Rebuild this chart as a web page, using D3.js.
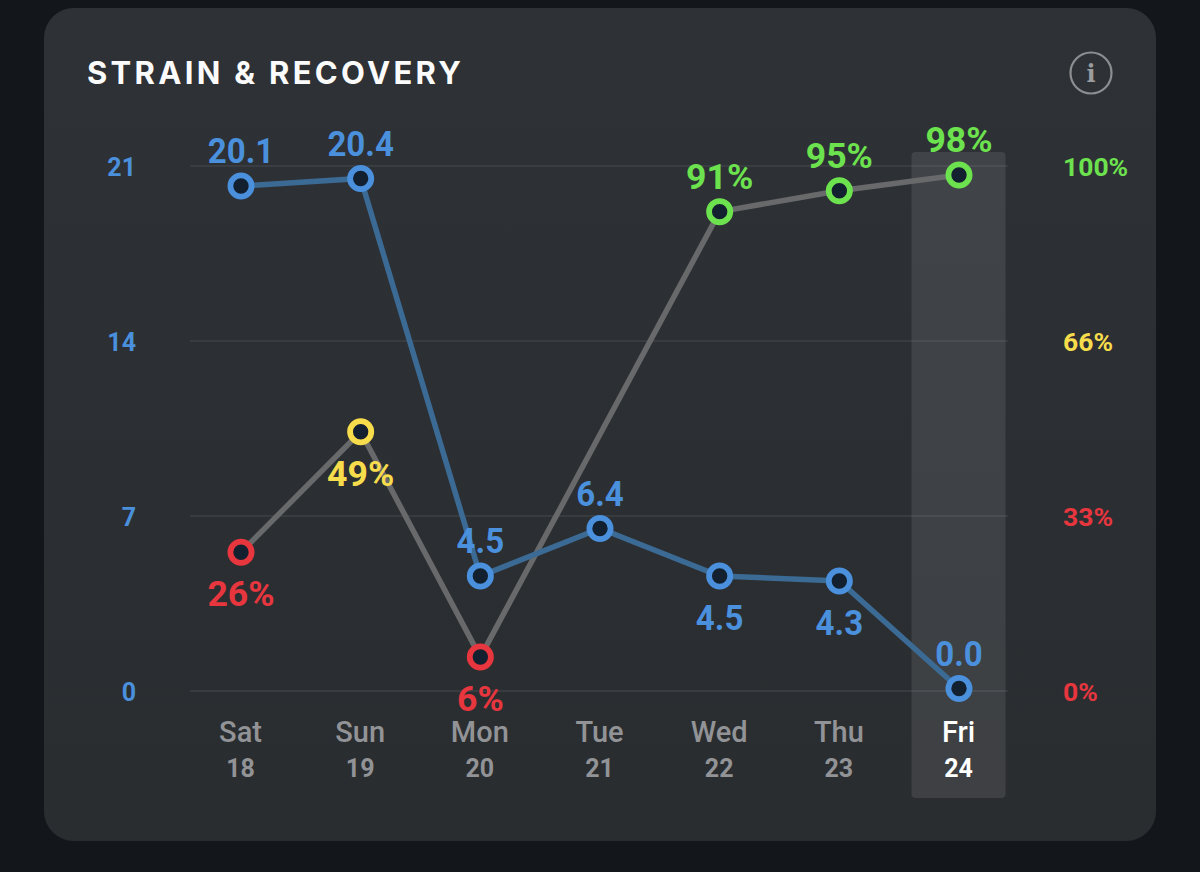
<!DOCTYPE html>
<html>
<head>
<meta charset="utf-8">
<script src="https://cdn.jsdelivr.net/npm/d3@7"></script>
<style>
  html, body { margin: 0; padding: 0; background: #13161a; }
  svg { display: block; }
  text { font-family: Roboto, "Noto Sans", sans-serif; }
</style>
</head>
<body>
<svg id="chart" width="1200" height="872"></svg>
<script>
const days = ["Sat", "Sun", "Mon", "Tue", "Wed", "Thu", "Fri"];
const dates = [18, 19, 20, 21, 22, 23, 24];
const strain = [20.1, 20.4, 4.5, 6.4, 4.5, 4.3, 0.0];
const recovery = [26, 49, 6, null, 91, 95, 98];
const strainLabelSide = ["up", "up", "up", "up", "down", "down", "up"];
const recoveryLabelSide = ["down", "down", "down", null, "up", "up", "up"];
const strainTicks = [0, 7, 14, 21];
const recoveryTicks = [0, 33, 66, 100];
const selectedDay = "Fri";

const BLUE = "#4a90dc", BLUE_LINE = "#3b6a94", GREY_LINE = "#68696b";
const RED = "#e8363f", YELLOW = "#f7dc4b", GREEN = "#6de24f";
const recoveryColor = d3.scaleThreshold().domain([33, 66]).range([RED, YELLOW, GREEN]);
const recoveryTickColor = d3.scaleThreshold().domain([66, 100]).range([RED, YELLOW, GREEN]);

const svg = d3.select("#chart");

// Card background with its faint vertical gradient
const grad = svg.append("defs").append("linearGradient")
  .attr("id", "card").attr("x1", 0).attr("x2", 0).attr("y1", 0).attr("y2", 1);
grad.append("stop").attr("offset", 0).attr("stop-color", "#2e3135");
grad.append("stop").attr("offset", 1).attr("stop-color", "#2a2d30");

svg.append("rect").attr("width", 1200).attr("height", 872).attr("fill", "#13161a");
svg.append("rect").attr("x", 44).attr("y", 8).attr("width", 1112).attr("height", 833)
  .attr("rx", 30).attr("fill", "url(#card)");

svg.append("text").attr("x", 87).attr("y", 84)
  .attr("fill", "#fbfbfb")
  .style("font-family", "Inter, Roboto, sans-serif")
  .style("font-size", "31px").style("font-weight", 700).style("letter-spacing", "3.3px")
  .text("STRAIN & RECOVERY");

// Info button
const info = svg.append("g").attr("transform", "translate(1091,73)");
info.append("circle").attr("r", 20.5).attr("fill", "none").attr("stroke", "#8c8e91").attr("stroke-width", 2.2);
info.append("text").attr("y", 9).attr("text-anchor", "middle").attr("fill", "#9a9c9f")
  .style("font-family", "'DejaVu Serif', 'Liberation Serif', serif")
  .style("font-size", "24px").style("font-weight", 700).text("i");

// Marker scales; the tick rows use their own evenly spaced scales
const x = d3.scalePoint().domain(days).range([241, 959]);
const yStrain = d3.scaleLinear().domain([0, 21]).range([688.5, 163.5]);
const yRecovery = d3.scaleLinear().domain([0, 100]).range([688.5, 164.5]);
const yAxisStrain = d3.scaleLinear().domain([0, 21]).range([691, 166]);
const yAxisRecovery = d3.scalePoint().domain(recoveryTicks).range([691, 166]);

// Gridlines
svg.append("g").selectAll("line").data(strainTicks).join("line")
  .attr("x1", 190).attr("x2", 1008)
  .attr("y1", d => yAxisStrain(d)).attr("y2", d => yAxisStrain(d))
  .attr("stroke", "#3e4144").attr("stroke-width", 1.5);

// Highlight column behind the selected day
svg.append("rect")
  .attr("x", x(selectedDay) - 47.5).attr("y", 152).attr("width", 94).attr("height", 646)
  .attr("rx", 4).attr("fill", "#fff").attr("fill-opacity", 0.095);

function styleAxis(g) {
  g.select(".domain").remove();
  g.selectAll(".tick line").remove();
  g.selectAll("text").style("font-family", "Roboto, sans-serif");
}

// Left and right value axes
svg.append("g").attr("transform", "translate(136,0)")
  .call(d3.axisLeft(yAxisStrain).tickValues(strainTicks).tickSize(0).tickPadding(0))
  .call(styleAxis)
  .selectAll("text")
  .attr("fill", BLUE).style("font-size", "25px").style("font-weight", 700)
  .attr("dy", "0.36em");

svg.append("g").attr("transform", "translate(1063,0)")
  .call(d3.axisRight(yAxisRecovery).tickSize(0).tickPadding(0).tickFormat(d => d + "%"))
  .call(styleAxis)
  .selectAll("text")
  .attr("fill", d => recoveryTickColor(d)).style("font-size", "26.5px").style("font-weight", 700)
  .attr("dy", "0.36em");

// Two-row day axis
const dateByDay = new Map(days.map((d, i) => [d, dates[i]]));
svg.append("g").attr("transform", "translate(-1,742)")
  .call(d3.axisBottom(x).tickSize(0).tickPadding(0))
  .call(styleAxis)
  .selectAll("text")
  .attr("y", 0).attr("dy", 0)
  .attr("fill", d => d === selectedDay ? "#ffffff" : "#929396")
  .style("font-size", "29px").style("font-weight", 500);

svg.append("g").attr("transform", "translate(-1,777)")
  .call(d3.axisBottom(x).tickSize(0).tickPadding(0).tickFormat(d => dateByDay.get(d)))
  .call(styleAxis)
  .selectAll("text")
  .attr("y", 0).attr("dy", 0)
  .attr("fill", d => d === selectedDay ? "#ffffff" : "#929396")
  .style("font-size", "25px").style("font-weight", 700);

// Series rows with a gap on Tuesday for recovery
const strainRows = days.map((day, i) => ({ day, value: strain[i], side: strainLabelSide[i] }));
const recoveryRows = days.map((day, i) => ({ day, value: recovery[i], side: recoveryLabelSide[i] }))
  .filter(d => d.value !== null);

const line = y => d3.line().x(d => x(d.day)).y(d => y(d.value));

svg.append("path").datum(recoveryRows)
  .attr("d", line(yRecovery)).attr("fill", "none")
  .attr("stroke", GREY_LINE).attr("stroke-width", 5.5);
svg.append("path").datum(strainRows)
  .attr("d", line(yStrain)).attr("fill", "none")
  .attr("stroke", BLUE_LINE).attr("stroke-width", 5.5);

function drawSeries(rows, y, color, fmt, widthScale) {
  const g = svg.append("g");
  g.selectAll("circle").data(rows).join("circle")
    .attr("cx", d => x(d.day)).attr("cy", d => y(d.value)).attr("r", 10.6)
    .attr("fill", "#13202f").attr("stroke", d => color(d)).attr("stroke-width", 5.8);
  g.selectAll("text").data(rows).join("text")
    .attr("transform", d => {
      const off = d.side === "up" ? -23 : 54;
      return `translate(${x(d.day)},${y(d.value) + off}) scale(${widthScale},1)`;
    })
    .attr("text-anchor", "middle")
    .attr("fill", d => color(d))
    .style("font-size", "36px").style("font-weight", 700)
    .text(fmt);
}

drawSeries(recoveryRows, yRecovery, d => recoveryColor(d.value), d => d.value + "%", 0.99);
drawSeries(strainRows, yStrain, () => BLUE, d => d.value.toFixed(1), 0.92);
</script>
</body>
</html>
